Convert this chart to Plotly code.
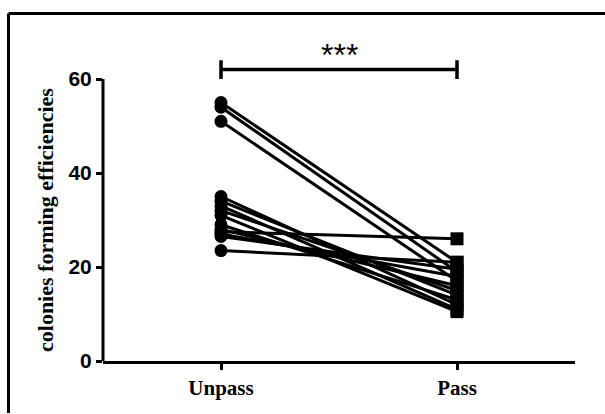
import plotly.graph_objects as go

# Paired colony forming efficiencies, one line per sample
groups = ["Unpass", "Pass"]
unpass = [55.0, 54.0, 51.0, 35.0, 34.0, 33.0, 32.0, 31.0, 29.0, 28.0, 27.5, 27.0, 26.5, 23.5]
passed = [21.0, 19.0, 17.0, 12.0, 14.0, 11.0, 15.0, 10.5, 13.0, 16.0, 26.0, 18.0, 19.5, 21.0]
y_ticks = [0, 20, 40, 60]
y_title = "colonies forming efficiencies"
sig_label = "***"

fig = go.Figure()

# connecting lines
for a, b in zip(unpass, passed):
    fig.add_trace(go.Scatter(x=[0, 1], y=[a, b], mode="lines",
                             line=dict(color="black", width=3),
                             showlegend=False, hoverinfo="skip"))

fig.add_trace(go.Scatter(x=[0] * len(unpass), y=unpass, mode="markers",
                         marker=dict(symbol="circle", size=13, color="black"),
                         showlegend=False, cliponaxis=False))
fig.add_trace(go.Scatter(x=[1] * len(passed), y=passed, mode="markers",
                         marker=dict(symbol="square", size=13, color="black"),
                         showlegend=False, cliponaxis=False))

# significance bracket
fig.add_trace(go.Scatter(x=[0, 0, 0, 1, 1, 1], y=[64, 60, 62, 62, 64, 60],
                         mode="lines", line=dict(color="black", width=3.5),
                         showlegend=False, hoverinfo="skip"))
fig.add_annotation(x=0.5, y=62, xref="x", yref="y", text=sig_label,
                   showarrow=False, yanchor="bottom", yshift=-5,
                   font=dict(family="Arial", size=32, color="black"))

# y axis title, centred on the 0-60 span
fig.add_annotation(x=(45 - 103) / 472, y=30, xref="paper", yref="y",
                   text=y_title, textangle=-90, showarrow=False,
                   xanchor="center", yanchor="middle",
                   font=dict(family="Liberation Serif", size=22, color="black",
                             weight="bold"))

# y axis line only from 0 to 60
fig.add_shape(type="line", xref="paper", yref="y", x0=0, x1=0, y0=0, y1=60,
              line=dict(color="black", width=3))

# outer frame: left and top edges
fx0 = (8.5 - 103) / 472
fy1 = (361 - 13.5) / 329
fig.add_shape(type="line", xref="paper", yref="paper",
              x0=fx0, x1=fx0, y0=(361 - 413) / 329, y1=fy1,
              line=dict(color="black", width=3))
fig.add_shape(type="line", xref="paper", yref="paper",
              x0=fx0, x1=(605 - 103) / 472, y0=fy1, y1=fy1,
              line=dict(color="black", width=3))

fig.update_layout(
    width=605, height=414,
    margin=dict(l=103, r=30, t=32, b=53),
    paper_bgcolor="white", plot_bgcolor="white",
    xaxis=dict(range=[-0.5, 1.5], tickvals=[0, 1], ticktext=groups,
               showgrid=False, zeroline=False, showline=True,
               linecolor="black", linewidth=3, ticks="outside",
               ticklen=6, tickwidth=3, tickcolor="black",
               tickfont=dict(family="Liberation Serif", size=21, color="black",
                             weight="bold")),
    yaxis=dict(range=[0, 70], tickvals=y_ticks, showgrid=False, zeroline=False,
               showline=False, ticks="outside", ticklen=6, tickwidth=3,
               tickcolor="black",
               tickfont=dict(family="Arial", size=21, color="black", weight="bold")),
)

fig.write_html("out.html")
